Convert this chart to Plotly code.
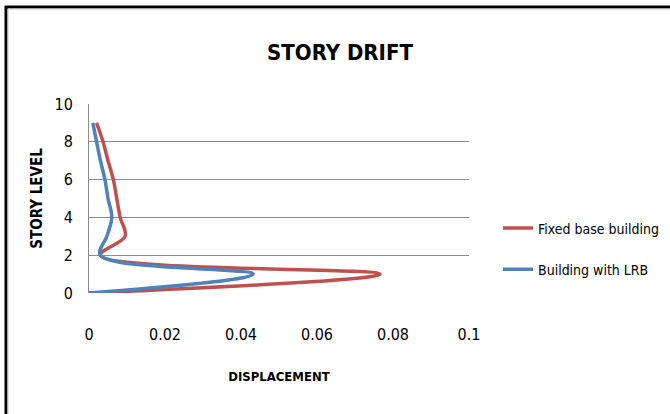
import plotly.graph_objects as go

levels = [0, 1, 2, 3, 4, 5, 6, 7, 8, 9]
fixed_base = [0.0, 0.0766, 0.003, 0.0095, 0.0082, 0.0073, 0.0064, 0.005, 0.0037, 0.002]
with_lrb = [0.0, 0.0432, 0.003, 0.0047, 0.006, 0.005, 0.0042, 0.003, 0.002, 0.001]
x_ticks = [0, 0.02, 0.04, 0.06, 0.08, 0.1]
x_tick_labels = ["0", "0.02", "0.04", "0.06", "0.08", "0.1"]
y_ticks = [0, 2, 4, 6, 8, 10]

W, H = 670, 414
L, R, T, B = 89, 201, 104, 121
pw, ph = W - L - R, H - T - B

def px(x):
    return (x - L) / pw

def py(y):
    return (H - B - y) / ph

FONT = "DejaVu Sans Condensed, DejaVu Sans, sans-serif"

fig = go.Figure()
fig.add_trace(go.Scatter(x=fixed_base, y=levels, mode="lines", name="Fixed base building",
                         line=dict(color="#C0504D", width=3.5, shape="spline", smoothing=1.0),
                         legendgroup="a"))
fig.add_trace(go.Scatter(x=with_lrb, y=levels, mode="lines", name="Building with LRB",
                         line=dict(color="#4F81BD", width=3.5, shape="spline", smoothing=1.0),
                         legendgroup="b"))

fig.update_layout(
    width=W, height=H,
    margin=dict(l=L, r=R, t=T, b=B, autoexpand=False),
    paper_bgcolor="white", plot_bgcolor="white",
    font=dict(family=FONT, color="black"),
    title=dict(text="<b>STORY DRIFT</b>", x=px(340), xref="paper", xanchor="center",
               y=1 - 52 / H, yanchor="middle", font=dict(size=22, family=FONT)),
    showlegend=True,
    legend=dict(x=px(498), xanchor="left", y=py(249), yanchor="middle",
                font=dict(size=14, family=FONT), traceorder="grouped", tracegroupgap=20,
                itemwidth=30, bgcolor="rgba(0,0,0,0)"),
    xaxis=dict(range=[0, 0.1], tickvals=x_ticks, ticktext=x_tick_labels, showgrid=False,
               zeroline=False, showline=False, ticks="", ticklabelstandoff=30,
               tickfont=dict(size=16, family=FONT),
               title=dict(text="<b>DISPLACEMENT</b>", font=dict(size=13, family=FONT), standoff=28)),
    yaxis=dict(range=[0, 10], tickvals=y_ticks, showgrid=True, gridcolor="#8C8C8C", gridwidth=1,
               zeroline=False, showline=True, linecolor="#8C8C8C", linewidth=1, ticks="",
               ticklabelstandoff=12, tickfont=dict(size=16, family=FONT),
               title=dict(text="<b>STORY LEVEL</b>", font=dict(size=15, family=FONT), standoff=8)),
    shapes=[
        dict(type="line", xref="paper", yref="paper", x0=px(5), x1=px(670), y0=py(7), y1=py(7),
             line=dict(color="black", width=3)),
        dict(type="line", xref="paper", yref="paper", x0=px(6), x1=px(6), y0=py(6), y1=py(414),
             line=dict(color="black", width=3)),
        dict(type="line", xref="paper", yref="paper", x0=px(8), x1=px(670), y0=py(9), y1=py(9),
             line=dict(color="#C8C8C8", width=1)),
        dict(type="line", xref="paper", yref="paper", x0=px(8), x1=px(8), y0=py(9), y1=py(414),
             line=dict(color="#C8C8C8", width=1)),
    ],
)
fig.write_html("out.html", config={"displayModeBar": False},
               post_script="document.body.style.margin='0';document.body.style.overflow='hidden';")
